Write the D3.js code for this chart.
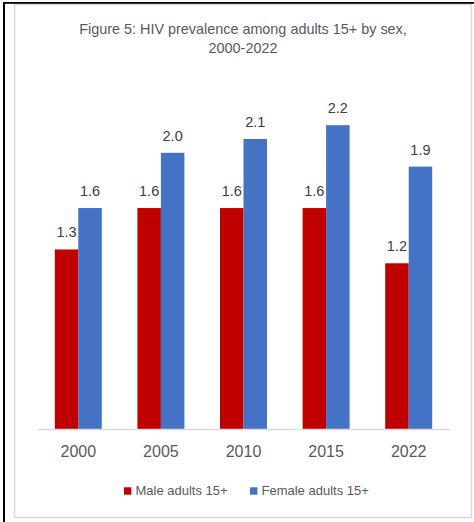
<!DOCTYPE html>
<html><head><meta charset="utf-8">
<script src="https://cdn.jsdelivr.net/npm/d3@7"></script>
<style>html,body{margin:0;padding:0;background:#fff;}svg{display:block;}</style>
</head><body>
<svg id="c" width="474" height="522"></svg>
<script>
const years = ["2000","2005","2010","2015","2022"];
const male = [1.3,1.6,1.6,1.6,1.2];
const female = [1.6,2.0,2.1,2.2,1.9];
const seriesNames = ["Male adults 15+","Female adults 15+"];
const seriesColors = ["#C00000","#4472C4"];
const titleLines = ["Figure 5: HIV prevalence among adults 15+ by sex,","2000-2022"];

const svg = d3.select("#c");
const font = "'Liberation Sans', Arial, sans-serif";

// frame
svg.append("rect").attr("x",14.5).attr("y",4.5).attr("width",457).attr("height",513)
  .attr("fill","#fff").attr("stroke","#d9d9d9").attr("stroke-width",1.5);
svg.append("rect").attr("x",3).attr("y",2).attr("width",2).attr("height",520).attr("fill","#000");
svg.append("rect").attr("x",3).attr("y",2).attr("width",471).attr("height",1.8).attr("fill","#000");

// title
svg.selectAll("text.title").data(titleLines).enter().append("text")
  .attr("x",243).attr("y",(d,i)=>33.5+i*19.5).attr("text-anchor","middle")
  .style("font-family",font).style("font-size","14.4px").attr("fill","#595959").text(d=>d);

const x0 = d3.scaleBand().domain(years).range([37,450]).paddingInner(0.431).paddingOuter(0.2155);
const x1 = d3.scaleBand().domain([0,1]).range([0,x0.bandwidth()]);
const y = d3.scaleLinear().domain([0,2.5]).range([429,429-138.1*2.5]);

const data = years.map((yr,i)=>({yr, vals:[male[i],female[i]]}));
const g = svg.append("g");
const groups = g.selectAll("g.grp").data(data).enter().append("g")
  .attr("transform",d=>`translate(${x0(d.yr)},0)`);
groups.selectAll("rect").data(d=>d.vals.map((v,k)=>({v,k}))).enter().append("rect")
  .attr("x",d=>x1(d.k)).attr("width",x1.bandwidth())
  .attr("y",d=>y(d.v)).attr("height",d=>y(0)-y(d.v))
  .attr("fill",d=>seriesColors[d.k]);
groups.selectAll("text").data(d=>d.vals.map((v,k)=>({v,k}))).enter().append("text")
  .attr("x",d=>x1(d.k)+x1.bandwidth()/2).attr("y",d=>y(d.v)-12)
  .attr("text-anchor","middle").style("font-family",font).style("font-size","14.5px")
  .attr("fill","#404040").text(d=>d.v.toFixed(1));

// x axis
const xAxis = svg.append("g").attr("transform","translate(0,429)")
  .call(d3.axisBottom(x0).tickSize(0).tickPadding(17));
xAxis.select(".domain").attr("stroke","#d9d9d9").attr("stroke-width",1.3);
xAxis.selectAll("text").style("font-family",font).style("font-size","16px").attr("fill","#595959");

// legend
const legX = [124,250];
const leg = svg.selectAll("g.leg").data(seriesNames).enter().append("g")
  .attr("transform",(d,i)=>`translate(${legX[i]},487.3)`);
leg.append("rect").attr("width",7.4).attr("height",7.4).attr("fill",(d,i)=>seriesColors[i]);
leg.append("text").attr("x",11.5).attr("y",7.8).style("font-family",font).style("font-size","13px")
  .attr("fill","#595959").text(d=>d);
</script>
</body></html>
